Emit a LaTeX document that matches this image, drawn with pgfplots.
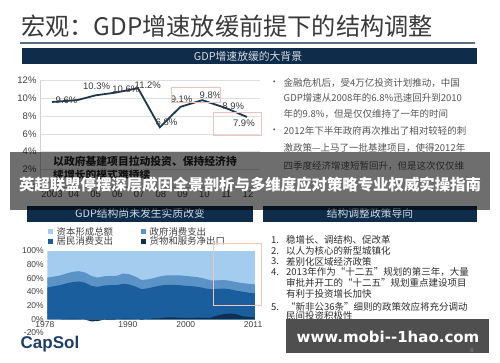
\documentclass[border=0pt]{standalone}
\usepackage{fontspec}
\setmainfont{Liberation Sans}
\newfontfamily\cjk{Noto Sans CJK SC}
\newfontfamily\dvs{DejaVu Sans}
\usepackage{pgfplots}
\usepackage{pgfplotstable}
\pgfplotsset{compat=1.18}
\definecolor{navy}{HTML}{0F2C4A}
\definecolor{bantext}{HTML}{D3DBE3}
\definecolor{titlegray}{HTML}{3A3A3A}
\definecolor{ulcol}{HTML}{5B6F84}
\definecolor{linecol}{HTML}{1E3850}
\definecolor{ticktext}{HTML}{404040}
\definecolor{pinkbox}{HTML}{EFC2C2}
\definecolor{orangebox}{HTML}{F2C6B2}
\definecolor{capcol}{HTML}{A3CCEE}
\definecolor{govcol}{HTML}{5C93C6}
\definecolor{hhcol}{HTML}{1B5E9E}
\definecolor{nxcol}{HTML}{0E2F50}
\definecolor{bodygray}{HTML}{555555}
\definecolor{listgray}{HTML}{2E2E2E}
\definecolor{wmgray}{HTML}{4F4F4F}
\definecolor{logoblue}{HTML}{1D3E66}

% cumulative shares of GDP (%): net exports, +household, +government, total
\pgfplotstableread{
year nx hhtop govtop top
1978 0.0 46.5 61.0 100
1979 0.0 48.5 62.5 100
1980 0.0 50.0 64.0 100
1981 0.5 52.5 67.0 100
1982 1.0 54.5 69.5 100
1983 0.5 55.5 70.5 100
1984 -0.5 53.5 68.5 100
1985 -3.0 49.0 63.5 100
1986 -2.5 47.5 61.0 100
1987 -0.5 49.5 63.0 100
1988 -1.0 50.0 63.5 100
1989 -0.5 50.0 63.5 100
1990 1.0 52.0 67.0 100
1991 1.0 51.0 66.0 100
1992 0.5 48.0 62.5 100
1993 -1.0 44.0 57.5 100
1994 0.5 45.5 58.5 100
1995 1.5 47.5 60.5 100
1996 1.5 49.5 63.0 100
1997 3.0 50.5 64.5 100
1998 3.0 50.5 64.5 100
1999 2.0 50.0 64.5 100
2000 2.0 49.0 63.5 100
2001 2.0 48.5 62.5 100
2002 2.5 47.5 61.5 100
2003 2.0 45.5 59.5 100
2004 2.5 44.0 57.0 100
2005 5.5 44.5 57.0 100
2006 7.5 45.0 57.5 100
2007 8.5 44.0 56.5 100
2008 7.5 42.0 54.5 100
2009 4.5 40.5 53.0 100
2010 3.5 39.0 52.0 100
2011 2.5 38.0 51.0 100
}\gdpshare

\begin{document}
\begin{tikzpicture}
\useasboundingbox (0,0) rectangle (500pt,362pt);
\fill[white] (0,0) rectangle (500pt,362pt);

% ---------- static slide parts (pixel coordinates, y down) ----------
\begin{scope}[x=1pt,y=-1pt,shift={(0pt,362pt)}]
\node[anchor=west,inner sep=0,text=titlegray,font=\cjk\fontsize{24.2}{25}\selectfont] at (21,26.2) {宏观：GDP增速放缓前提下的结构调整};
\draw[ulcol,line width=1.5pt] (20,42.8) -- (475,42.8);
\fill[navy] (22,48.5) rectangle (477,64.5);
\node[text=bantext,inner sep=0,font=\cjk\fontsize{10.8}{11}\selectfont] at (248,56.5) {GDP增速放缓的大背景};

\fill[navy] (27,205.5) rectangle (253,221.7);
\node[text=bantext,inner sep=0,font=\cjk\fontsize{10.8}{11}\selectfont] at (140,213.6) {GDP结构尚未发生实质改变};
\fill[navy] (263,205.5) rectangle (477,221.7);
\node[text=bantext,inner sep=0,font=\cjk\fontsize{10.8}{11}\selectfont] at (370,213.6) {结构调整政策导向};

% right upper bullets
\begin{scope}[every node/.style={anchor=west,inner sep=0,text=bodygray,font=\cjk\fontsize{9.5}{10}\selectfont}]
\node at (269.5,82.7) {•};
\node at (269.5,131) {•};
\node at (283.5,82.7) {金融危机后，受4万亿投资计划推动，中国};
\node at (283.5,98) {GDP增速从2008年的6.8\%迅速回升到2010};
\node at (283.5,114) {年的9.8\%，但是仅仅维持了一年的时间};
\node at (283.5,131) {2012年下半年政府再次推出了相对较轻的刺};
\node at (283.5,148.3) {激政策—上马了一批基建项目，使得2012年};
\node at (283.5,166) {四季度经济增速短暂回升，但是这次仅仅维};
\end{scope}

% right lower list
\begin{scope}[every node/.style={anchor=west,inner sep=0,text=listgray,font=\cjk\fontsize{9.5}{10}\selectfont}]
\node at (271,240) {1.};
\node at (271,251) {2.};
\node at (271,261.5) {3.};
\node at (271,272) {4.};
\node at (271,306.7) {5.};
\node at (286,240) {稳增长、调结构、促改革};
\node at (286,251) {以人为核心的新型城镇化};
\node at (286,261.5) {差别化区域经济政策};
\node at (286,272) {2013年作为“十二五”规划的第三年，大量};
\node at (286,283) {审批并开工的“十二五”规划重点建设项目};
\node at (286,293.7) {有利于投资增长加快};
\node at (286,306.7) {“新非公36条”细则的政策效应将充分调动};
\node at (286,316) {民间投资积极性};
\end{scope}

% line-chart text
\node[anchor=west,inner sep=0,text=black!85,font=\cjk\bfseries\fontsize{10.8}{11}\selectfont] at (53,161.7) {以政府基建项目拉动投资、保持经济持};
\node[anchor=west,inner sep=0,text=black!85,font=\cjk\bfseries\fontsize{10.8}{11}\selectfont] at (53,174) {续增长的模式难持续};

% legend of area chart
\begin{scope}[every node/.style={anchor=west,inner sep=0,text=ticktext,font=\cjk\fontsize{9.4}{10}\selectfont}]
\fill[capcol] (47.5,229.2) rectangle (52.5,234.2);
\fill[govcol] (140.5,229.2) rectangle (145.5,234.2);
\fill[hhcol] (47.5,238.8) rectangle (52.5,243.8);
\fill[nxcol] (140.5,238.8) rectangle (145.5,243.8);
\node at (56.5,231.7) {资本形成总额};
\node at (149.5,231.7) {政府消费支出};
\node at (56.5,241.3) {居民消费支出};
\node at (149.5,241.3) {货物和服务净出口};
\end{scope}

\node[anchor=west,inner sep=0,text=logoblue,font=\bfseries\fontsize{17}{17}\selectfont] at (20.5,344.5) {CapSol};
\end{scope}

% ---------- GDP growth line chart ----------
\begin{axis}[
  at={(40pt,175pt)}, anchor=south west,
  scale only axis, width=220pt, height=106.3pt,
  xmin=-0.55, xmax=9.55, ymin=0, ymax=12,
  xtick={0,...,9},
  xticklabels={2003,04,05,06,07,08,09,10,11,12},
  ytick={0,2,...,12},
  yticklabel={\pgfmathprintnumber{\tick}\%},
  /pgf/number format/assume math mode=true,
  axis x line*=bottom, axis y line*=left,
  axis line style={draw=black!18},
  major tick length=0pt,
  ymajorgrids, grid style={draw=black!13, line width=0.5pt},
  tick label style={font=\fontsize{9.5}{10}\selectfont, text=ticktext},
  clip=false,
]
\addplot[linecol, line width=1.8pt] coordinates {
 (0,9.6) (1.15,9.8) (2,10.35) (2.9,10.65) (3.95,11.15) (4.95,6.75) (5.9,9.05) (6.9,9.8) (8,8.9) (8.95,7.9)};
\node[font=\fontsize{9.5}{10}\selectfont, text=titlegray, inner sep=0] at (axis cs:0.67,9.8) {9.6\%};
\node[font=\fontsize{9.5}{10}\selectfont, text=titlegray, inner sep=0] at (axis cs:2.05,11.32) {10.3\%};
\node[font=\fontsize{9.5}{10}\selectfont, text=titlegray, inner sep=0] at (axis cs:3.39,11.03) {10.6\%};
\node[font=\fontsize{9.5}{10}\selectfont, text=titlegray, inner sep=0] at (axis cs:4.4,11.51) {11.2\%};
\node[font=\fontsize{9.5}{10}\selectfont, text=titlegray, inner sep=0] at (axis cs:5.26,7.26) {6.8\%};
\node[font=\fontsize{9.5}{10}\selectfont, text=titlegray, inner sep=0] at (axis cs:5.95,9.9) {9.1\%};
\node[font=\fontsize{9.5}{10}\selectfont, text=titlegray, inner sep=0] at (axis cs:7.28,10.38) {9.8\%};
\node[font=\fontsize{9.5}{10}\selectfont, text=titlegray, inner sep=0] at (axis cs:8.32,9.14) {8.9\%};
\node[font=\fontsize{9.5}{10}\selectfont, text=titlegray, inner sep=0] at (axis cs:8.81,7.2) {7.9\%};
\end{axis}

% ---------- GDP structure area chart ----------
\begin{axis}[
  at={(47.3pt,29pt)}, anchor=south west,
  scale only axis, width=207.7pt, height=82pt,
  xmin=1978, xmax=2011, ymin=-20, ymax=100,
  xtick=\empty,
  ytick={-20,0,20,40,60,80,100},
  yticklabel={\pgfmathprintnumber{\tick}\%},
  /pgf/number format/assume math mode=true,
  axis line style={draw=none},
  major tick length=0pt,
  tick label style={font=\fontsize{8.5}{9}\selectfont, text=ticktext},
  clip=false,
]
\addplot[fill=capcol, draw=none] table[x=year,y=top] {\gdpshare} \closedcycle;
\addplot[fill=govcol, draw=none] table[x=year,y=govtop] {\gdpshare} \closedcycle;
\addplot[fill=hhcol, draw=none] table[x=year,y=hhtop] {\gdpshare} \closedcycle;
\addplot[fill=nxcol, draw=none] table[x=year,y=nx] {\gdpshare} \closedcycle;
\node[font=\fontsize{8.5}{9}\selectfont, text=ticktext, inner sep=0, anchor=north] at (axis cs:1977.6,-3.5) {1978};
\node[font=\fontsize{8.5}{9}\selectfont, text=ticktext, inner sep=0, anchor=north] at (axis cs:1990.8,-3.5) {1990};
\node[font=\fontsize{8.5}{9}\selectfont, text=ticktext, inner sep=0, anchor=north] at (axis cs:2000.0,-3.5) {2000};
\node[font=\fontsize{8.5}{9}\selectfont, text=ticktext, inner sep=0, anchor=north] at (axis cs:2010.7,-3.5) {2011};
\end{axis}

% ---------- overlays ----------
\begin{scope}[x=1pt,y=-1pt,shift={(0pt,362pt)}]
\draw[pinkbox,line width=0.7pt] (171.7,87.3) rectangle (220,102.7);
\draw[pinkbox,line width=0.7pt] (213,112) rectangle (261.5,135);
\draw[orangebox,line width=0.8pt] (213,243) rectangle (261,305);
\fill[black,opacity=0.57] (10,151.7) rectangle (490,210);
\node[text=white,inner sep=0,font=\cjk\bfseries\fontsize{15.4}{16}\selectfont] at (250,184.5) {英超联盟停摆深层成因全景剖析与多维度应对策略专业权威实操指南};
\fill[wmgray] (286,319) rectangle (489,353);
\node[text=white,inner sep=0,font=\dvs\bfseries\fontsize{15}{15}\selectfont] at (388,336.5) {www.mobi--1hao.com};
\node[text=black!45,inner sep=0,font=\fontsize{6}{6}\selectfont] at (472,350) {6};
\end{scope}
\end{tikzpicture}
\end{document}
